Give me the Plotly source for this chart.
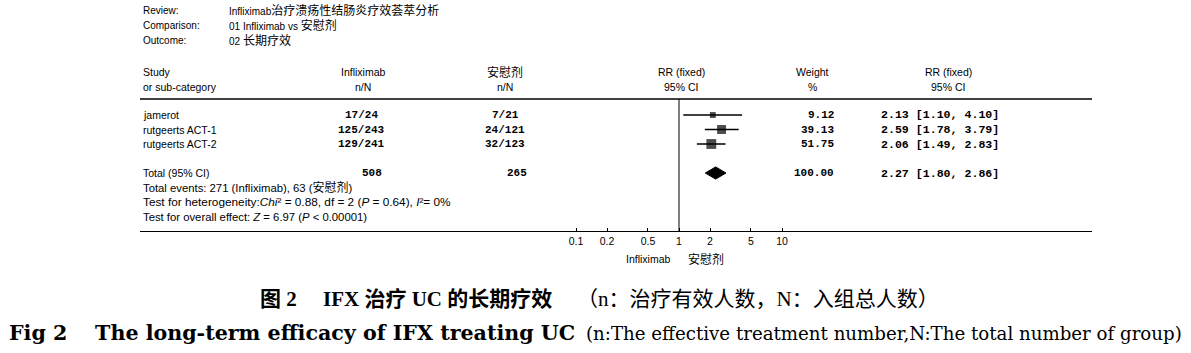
import plotly.graph_objects as go
import math

# ---------------- data ----------------
studies = ["jamerot", "rutgeerts ACT-1", "rutgeerts ACT-2"]
inf_events = [17, 125, 129]
inf_total = [24, 243, 241]
pbo_events = [7, 24, 32]
pbo_total = [21, 121, 123]
weights = [9.12, 39.13, 51.75]
rr = [2.13, 2.59, 2.06]
ci_lo = [1.10, 1.78, 1.49]
ci_hi = [4.10, 3.79, 2.83]

total_label = "Total (95% CI)"
total_inf_n = 508
total_pbo_n = 265
total_weight = 100.00
total_rr = 2.27
total_lo = 1.80
total_hi = 2.86

tick_vals = [0.1, 0.2, 0.5, 1, 2, 5, 10]
tick_text = ["0.1", "0.2", "0.5", "1", "2", "5", "10"]

study_rows = [0, 1, 2]
total_row = 4

W, H = 1191, 353


def px(x):
    return x / W


def py(y):
    return 1 - y / H


SANS = "Liberation Sans, Arial, Noto Sans CJK SC"
MONO = "Liberation Mono, Courier New, monospace"
SERIF = "DejaVu Serif, Liberation Serif, Noto Sans CJK SC"
CJKSERIF = "Liberation Serif, Noto Sans CJK SC"


def cjk(t, size=12):
    return f"<span style='font-size:{size}px'>{t}</span>"


fig = go.Figure()

# CI lines
for r, lo, hi in zip(study_rows, ci_lo, ci_hi):
    fig.add_trace(go.Scatter(x=[lo, hi], y=[r, r], mode="lines",
                             line=dict(color="black", width=1.5),
                             showlegend=False, hoverinfo="skip"))
# squares (size grows with weight)
fig.add_trace(go.Scatter(x=rr, y=study_rows, mode="markers",
                         marker=dict(symbol="square", color="black",
                                     size=[3 + 0.95 * math.sqrt(w) for w in weights],
                                     line=dict(width=0)),
                         showlegend=False, hoverinfo="skip"))
# diamond
dh = 0.42
fig.add_trace(go.Scatter(x=[total_lo, total_rr, total_hi, total_rr, total_lo],
                         y=[total_row, total_row - dh, total_row, total_row + dh, total_row],
                         mode="lines", fill="toself", fillcolor="black",
                         line=dict(color="black", width=1),
                         showlegend=False, hoverinfo="skip"))

# axis placement: 1 at x=679px, ~103 px per decade, line spans 140..1092
ppd = 103.0
x_left, x_right, x_one = 140, 1092, 679
xr = [(x_left - x_one) / ppd, (x_right - x_one) / ppd]
row_h = 14.5
y_top, y_bot, y_first = 99, 231, 115
yr = [(y_bot - y_first) / row_h, (y_top - y_first) / row_h]

fig.update_layout(
    width=W, height=H, margin=dict(l=0, r=0, t=0, b=0),
    paper_bgcolor="white", plot_bgcolor="white",
    xaxis=dict(type="log", range=xr, domain=[px(x_left), px(x_right)],
               showgrid=False, zeroline=False, showline=True,
               linecolor="black", linewidth=1,
               tickvals=tick_vals, ticktext=tick_text,
               ticks="inside", ticklen=3, tickcolor="black",
               tickfont=dict(family=SANS, size=10.5, color="black")),
    yaxis=dict(range=yr, domain=[py(y_bot), py(y_top)], visible=False),
)

# vertical line of no effect
fig.add_shape(type="line", xref="x", yref="paper", x0=1, x1=1,
              y0=py(y_bot), y1=py(y_top), line=dict(color="black", width=1))
# header line
fig.add_shape(type="line", xref="paper", yref="paper", x0=px(140), x1=px(1092),
              y0=py(y_top), y1=py(y_top), line=dict(color="black", width=1.5))


def ann(text, x, y, xanchor="left", size=10.5, family=SANS, yref="paper", **kw):
    fig.add_annotation(text=text, x=x, y=y, xref="paper", yref=yref,
                       xanchor=xanchor, yanchor="middle", showarrow=False,
                       font=dict(family=family, size=size, color="black"), **kw)


# top info
ann("Review:", px(141), py(10), size=10)
ann("Comparison:", px(141), py(25), size=10)
ann("Outcome:", px(141), py(40), size=10)
ann("Infliximab" + cjk("治疗溃疡性结肠炎疗效荟萃分析"), px(227), py(10), size=10)
ann("01 Infliximab vs " + cjk("安慰剂"), px(227), py(25), size=10)
ann("02 " + cjk("长期疗效"), px(227), py(40), size=10)

# column headers
ann("Study", px(141), py(72))
ann("or sub-category", px(141), py(87))
ann("Infliximab", px(363), py(72), xanchor="center")
ann("n/N", px(363), py(87), xanchor="center")
ann(cjk("安慰剂"), px(505), py(72), xanchor="center")
ann("n/N", px(505), py(87), xanchor="center")
ann("RR (fixed)", px(681), py(72), xanchor="center")
ann("95% CI", px(681), py(87), xanchor="center")
ann("Weight", px(812), py(72), xanchor="center")
ann("%", px(812), py(87), xanchor="center")
ann("RR (fixed)", px(948), py(72), xanchor="center")
ann("95% CI", px(948), py(87), xanchor="center")

# study rows
for r, s, ie, it, pe, pt, w, v, lo, hi in zip(study_rows, studies, inf_events, inf_total,
                                              pbo_events, pbo_total, weights, rr, ci_lo, ci_hi):
    ann(s, px(141), r, yref="y")
    ann(f"<b>{ie}/{it}</b>", px(361), r, xanchor="center", size=11, family=MONO, yref="y")
    ann(f"<b>{pe}/{pt}</b>", px(505), r, xanchor="center", size=11, family=MONO, yref="y")
    ann(f"<b>{w:.2f}</b>", px(836), r, xanchor="right", size=11, family=MONO, yref="y")
    ann(f"<b>{v:.2f} [{lo:.2f}, {hi:.2f}]</b>", px(879), r, size=11.6, family=MONO, yref="y")

# total row
ann(total_label, px(141), total_row, yref="y")
ann(f"<b>{total_inf_n}</b>", px(372), total_row, xanchor="center", size=11, family=MONO, yref="y")
ann(f"<b>{total_pbo_n}</b>", px(517), total_row, xanchor="center", size=11, family=MONO, yref="y")
ann(f"<b>{total_weight:.2f}</b>", px(836), total_row, xanchor="right", size=11, family=MONO, yref="y")
ann(f"<b>{total_rr:.2f} [{total_lo:.2f}, {total_hi:.2f}]</b>", px(879), total_row, size=11.6,
    family=MONO, yref="y")

ann(f"Total events: {sum(inf_events)} (Infliximab), {sum(pbo_events)} (" + cjk("安慰剂") + ")",
    px(141), py(187), size=11.3)
ann("Test for heterogeneity:<i>Chi</i>² = 0.88, df = 2 (<i>P</i> = 0.64), <i>I</i>²= 0%",
    px(141), py(202), size=11.8)
ann("Test for overall effect: <i>Z</i> = 6.97 (<i>P</i> < 0.00001)", px(141), py(217), size=11.3)

# favours labels
ann("Infliximab", px(648), py(259), xanchor="center")
ann(cjk("安慰剂"), px(706), py(259), xanchor="center")

# captions
ann("<b>图 2　 IFX 治疗 UC 的长期疗效</b>", px(258), py(299), size=21, family=CJKSERIF)
ann("（n：治疗有效人数，N：入组总人数）", px(941), py(299), xanchor="right", size=21,
    family=CJKSERIF)
ann("<b>Fig 2　 The long-term efficacy of IFX treating UC</b>", px(7), py(333), size=20.6,
    family=SERIF)
ann("(n:The effective treatment number,N:The total number of group)", px(1184), py(333),
    xanchor="right", size=18.2, family=SERIF)

fig.write_html("out.html")
